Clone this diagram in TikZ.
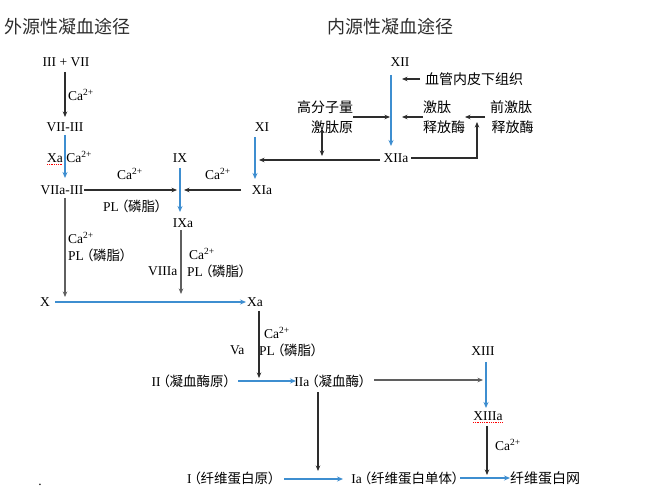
\documentclass[tikz,border=0pt]{standalone}
\usepackage{fontspec}
\setmainfont{Liberation Serif}
\newfontfamily\cjk[CharacterWidth=AlternateProportional]{Noto Sans CJK SC}
\usetikzlibrary{arrows.meta}
\definecolor{cblue}{RGB}{62,142,208}
\definecolor{cdark}{RGB}{45,45,45}
\definecolor{cgray}{RGB}{95,95,95}
\definecolor{chead}{RGB}{45,45,45}
\newcommand{\zh}[1]{\kern2.5pt{\cjk\fontsize{13.5}{16}\selectfont #1}}
\tikzset{
  lbl/.style={inner sep=0pt, font=\fontsize{13.5}{16}\selectfont},
  zhl/.style={inner sep=0pt, font=\cjk\fontsize{14}{20}\selectfont},
  head/.style={inner sep=0pt, text=chead, font=\cjk\fontsize{18}{20}\selectfont},
  darr/.style={draw=cdark, line width=1.1pt, -{Stealth[length=5.5pt,width=4.5pt]}},
  garr/.style={draw=cgray, line width=1.6pt, -{Stealth[length=5.5pt,width=4.5pt]}},
  barr/.style={draw=cblue, line width=1.6pt, -{Stealth[length=6pt,width=5pt]}},
  spell/.style={draw=red, densely dotted, line width=0.8pt}
}
\begin{document}
\begin{tikzpicture}[x=1pt,y=-1pt]
\useasboundingbox (0,0) rectangle (670,489);
% headings
\node[head] (h1) at (68,27) {外源性凝血途径};
\node[head] (h2) at (390,27) {内源性凝血途径};
% factor nodes
\node[lbl] (n37) at (66,62) {III + VII};
\node[lbl] (n7iii) at (65,127) {VII-III};
\node[lbl] (n7aiii) at (62,190) {VIIa-III};
\node[lbl] (n9) at (180,158) {IX};
\node[lbl] (n9a) at (183,223) {IXa};
\node[lbl] (n11) at (262,127) {XI};
\node[lbl] (n11a) at (262,190) {XIa};
\node[lbl] (n12) at (400,62) {XII};
\node[lbl] (n12a) at (396,158) {XIIa};
\node[zhl] (tis) at (474,79) {血管内皮下组织};
\node[zhl, align=right] (hmk) at (325,117) {高分子量\\激肽原};
\node[zhl, align=left] (kal) at (444,117) {激肽\\释放酶};
\node[zhl, align=center] (pkal) at (511,117) {前激肽\\\ 释放酶};
\node[lbl] (nX) at (45,302) {X};
\node[lbl] (nXa) at (255,302) {Xa};
\node[lbl] (n2) at (191,381) {II\zh{（凝血酶原）}};
\node[lbl] (n2a) at (330,381) {IIa\zh{（凝血酶）}};
\node[lbl] (n13) at (483,351) {XIII};
\node[lbl] (n13a) at (488,416) {XIIIa};
\node[lbl] (n1) at (231,478) {I\zh{（纤维蛋白原）}};
\node[lbl] (n1a) at (405,478) {Ia\zh{（纤维蛋白单体）}};
\node[zhl] (net) at (545,478) {纤维蛋白网};
% side labels
\node[lbl, anchor=west] (l1) at (68,95) {Ca\textsuperscript{2+}};
\node[lbl, anchor=west] (l2) at (47,157) {Xa Ca\textsuperscript{2+}};
\node[lbl, anchor=west] (l3) at (117,174) {Ca\textsuperscript{2+}};
\node[lbl, anchor=west] (l4) at (103,206) {PL\zh{（磷脂）}};
\node[lbl, anchor=west] (l5) at (205,174) {Ca\textsuperscript{2+}};
\node[lbl, anchor=west] (l6) at (68,238) {Ca\textsuperscript{2+}};
\node[lbl, anchor=west] (l7) at (68,255) {PL\zh{（磷脂）}};
\node[lbl, anchor=west] (l8) at (148,271) {VIIIa};
\node[lbl, anchor=west] (l9) at (189,254) {Ca\textsuperscript{2+}};
\node[lbl, anchor=west] (l10) at (187,271) {PL\zh{（磷脂）}};
\node[lbl, anchor=west] (l11) at (264,333) {Ca\textsuperscript{2+}};
\node[lbl, anchor=west] (l12) at (230,350) {Va};
\node[lbl, anchor=west] (l13) at (259,350) {PL\zh{（磷脂）}};
\node[lbl, anchor=west] (l14) at (495,445) {Ca\textsuperscript{2+}};
\node[lbl] (dot) at (40,485) {.};
% spell underlines
\coordinate (u1s) at (47,164); \coordinate (u1e) at (63,164);
\coordinate (u2s) at (473,422); \coordinate (u2e) at (503,422);
\draw[spell] (u1s) -- (u1e);
\draw[spell] (u2s) -- (u2e);
% connector end points
\coordinate (a1s) at (65,72);   \coordinate (a1e) at (65,117);
\coordinate (a2s) at (65,135);  \coordinate (a2e) at (65,178);
\coordinate (a3s) at (84,190);  \coordinate (a3e) at (177,190);
\coordinate (a4s) at (180,168); \coordinate (a4e) at (180,212);
\coordinate (a5s) at (241,190); \coordinate (a5e) at (184,190);
\coordinate (a6s) at (255,137); \coordinate (a6e) at (255,179);
\coordinate (a7s) at (391,75);  \coordinate (a7e) at (391,146);
\coordinate (a8s) at (420,79);  \coordinate (a8e) at (402,79);
\coordinate (a9s) at (353,117); \coordinate (a9e) at (390,117);
\coordinate (a10s) at (423,117); \coordinate (a10e) at (402,117);
\coordinate (a11s) at (485,117); \coordinate (a11e) at (465,117);
\coordinate (a12s) at (380,160); \coordinate (a12e) at (259,160);
\coordinate (a13s) at (322,131); \coordinate (a13e) at (322,156);
\coordinate (a14s) at (411,158); \coordinate (a14e) at (477,122);
\coordinate (a15s) at (65,198); \coordinate (a15e) at (65,297);
\coordinate (a16s) at (181,230); \coordinate (a16e) at (181,294);
\coordinate (a17s) at (55,302); \coordinate (a17e) at (246,302);
\coordinate (a18s) at (259,311); \coordinate (a18e) at (259,378);
\coordinate (a19s) at (238,381); \coordinate (a19e) at (296,381);
\coordinate (a20s) at (374,380); \coordinate (a20e) at (483,380);
\coordinate (a21s) at (486,362); \coordinate (a21e) at (486,408);
\coordinate (a22s) at (487,426); \coordinate (a22e) at (487,475);
\coordinate (a23s) at (318,392); \coordinate (a23e) at (318,471);
\coordinate (a24s) at (284,479); \coordinate (a24e) at (343,479);
\coordinate (a25s) at (460,478); \coordinate (a25e) at (510,478);
% connectors
\draw[darr] (a1s) -- (a1e);
\draw[barr] (a2s) -- (a2e);
\draw[darr] (a3s) -- (a3e);
\draw[barr] (a4s) -- (a4e);
\draw[darr] (a5s) -- (a5e);
\draw[barr] (a6s) -- (a6e);
\draw[barr] (a7s) -- (a7e);
\draw[darr] (a8s) -- (a8e);
\draw[darr] (a9s) -- (a9e);
\draw[darr] (a10s) -- (a10e);
\draw[darr] (a11s) -- (a11e);
\draw[darr] (a12s) -- (a12e);
\draw[darr] (a13s) -- (a13e);
\draw[darr] (a14s) -| (a14e);
\draw[garr] (a15s) -- (a15e);
\draw[garr] (a16s) -- (a16e);
\draw[barr] (a17s) -- (a17e);
\draw[darr] (a18s) -- (a18e);
\draw[barr] (a19s) -- (a19e);
\draw[garr] (a20s) -- (a20e);
\draw[barr] (a21s) -- (a21e);
\draw[darr] (a22s) -- (a22e);
\draw[darr] (a23s) -- (a23e);
\draw[barr] (a24s) -- (a24e);
\draw[barr] (a25s) -- (a25e);
\end{tikzpicture}
\end{document}
